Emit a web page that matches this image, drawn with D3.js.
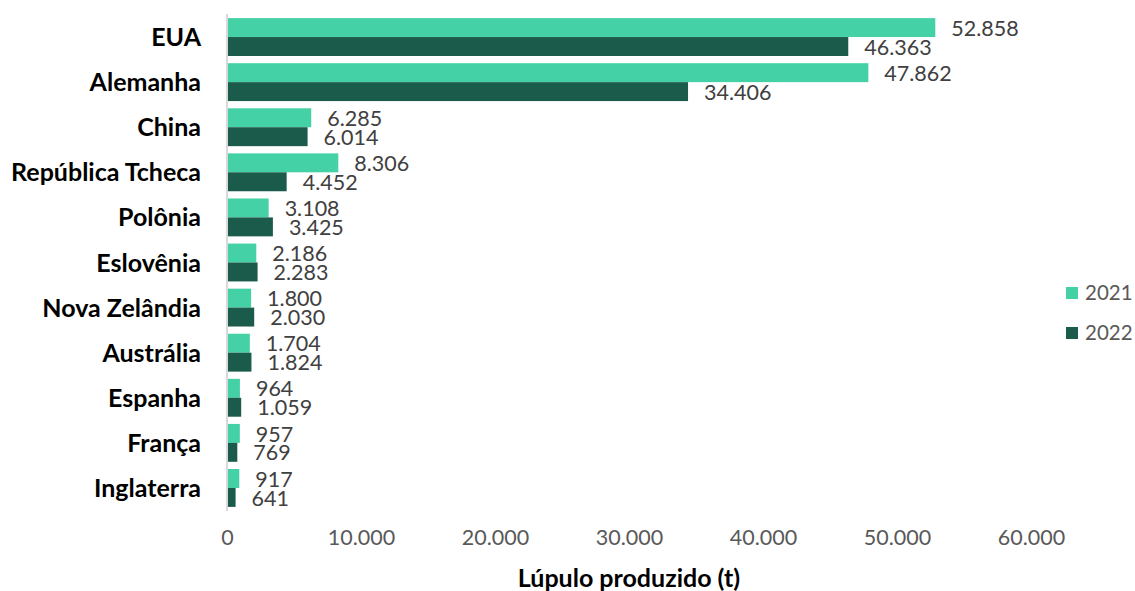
<!DOCTYPE html>
<html>
<head>
<meta charset="utf-8">
<script src="https://cdn.jsdelivr.net/npm/d3@7"></script>
<style>
  html, body { margin: 0; padding: 0; background: #fff; }
  svg { display: block; font-family: Lato, "Open Sans", sans-serif; }
</style>
</head>
<body>
<svg id="chart" width="1135" height="591"></svg>
<script>
// Hop production by country, tonnes
const countries = ["EUA", "Alemanha", "China", "República Tcheca", "Polônia", "Eslovênia",
                   "Nova Zelândia", "Austrália", "Espanha", "França", "Inglaterra"];
const years = ["2021", "2022"];
const values2021 = [52858, 47862, 6285, 8306, 3108, 2186, 1800, 1704, 964, 957, 917];
const values2022 = [46363, 34406, 6014, 4452, 3425, 2283, 2030, 1824, 1059, 769, 641];
const xTicks = [0, 10000, 20000, 30000, 40000, 50000, 60000];
const axisTitle = "Lúpulo produzido (t)";

const colors = { "2021": "#43D1A5", "2022": "#1B5B4B" };
const seriesValues = { "2021": values2021, "2022": values2022 };

const svg = d3.select("#chart");
const fmt = v => d3.format(",")(v).replace(/,/g, ".");

const x = d3.scaleLinear().domain([0, 60000]).range([227, 1031]);
const y = d3.scaleBand().domain(countries).range([14.5, 510.5]).paddingInner(0.16).paddingOuter(0.08);
const ySub = d3.scaleBand().domain(years).range([0, y.bandwidth()]);

const rows = countries.map((c, i) => ({ country: c, vals: years.map(yr => ({ year: yr, value: seriesValues[yr][i] })) }));

const g = svg.append("g");
const group = g.selectAll("g.row").data(rows).join("g")
  .attr("class", "row")
  .attr("transform", d => `translate(0,${y(d.country)})`);

group.selectAll("rect").data(d => d.vals).join("rect")
  .attr("x", x(0))
  .attr("y", d => ySub(d.year))
  .attr("width", d => x(d.value) - x(0))
  .attr("height", ySub.bandwidth())
  .attr("fill", d => colors[d.year]);

group.selectAll("text.val").data(d => d.vals).join("text")
  .attr("class", "val")
  .attr("x", d => x(d.value) + 16)
  .attr("y", d => ySub(d.year) + ySub.bandwidth() / 2)
  .attr("dy", "0.38em")
  .attr("font-size", 21.5)
  .attr("fill", "#404040")
  .text(d => fmt(d.value));

// Category axis line
g.append("line")
  .attr("x1", x(0)).attr("x2", x(0))
  .attr("y1", 14).attr("y2", 511)
  .attr("stroke", "#d9d9d9").attr("stroke-width", 2);

// Category labels
g.selectAll("text.cat").data(countries).join("text")
  .attr("class", "cat")
  .attr("x", 201)
  .attr("y", d => y(d) + y.bandwidth() / 2)
  .attr("dy", "0.36em")
  .attr("text-anchor", "end")
  .attr("font-size", 25)
  .attr("font-weight", "bold")
  .attr("fill", "#000")
  .text(d => d);

// Value axis tick labels
const xAxis = d3.axisBottom(x).tickValues(xTicks).tickSize(0).tickPadding(0).tickFormat(fmt);
const ax = svg.append("g").attr("transform", "translate(0,530)").call(xAxis);
ax.select(".domain").remove();
ax.selectAll("text")
  .attr("font-family", "Lato, 'Open Sans', sans-serif")
  .attr("font-size", 21.5)
  .attr("fill", "#595959");

svg.append("text")
  .attr("x", 629).attr("y", 587)
  .attr("text-anchor", "middle")
  .attr("font-size", 25)
  .attr("font-weight", "bold")
  .attr("fill", "#000")
  .text(axisTitle);

// Legend
const legend = svg.append("g").selectAll("g").data(years).join("g")
  .attr("transform", (d, i) => `translate(1066,${287 + i * 40})`);
legend.append("rect").attr("width", 12).attr("height", 12).attr("fill", d => colors[d]);
legend.append("text")
  .attr("x", 19).attr("y", 6).attr("dy", "0.36em")
  .attr("font-size", 20.5).attr("fill", "#595959")
  .text(d => d);
</script>
</body>
</html>
